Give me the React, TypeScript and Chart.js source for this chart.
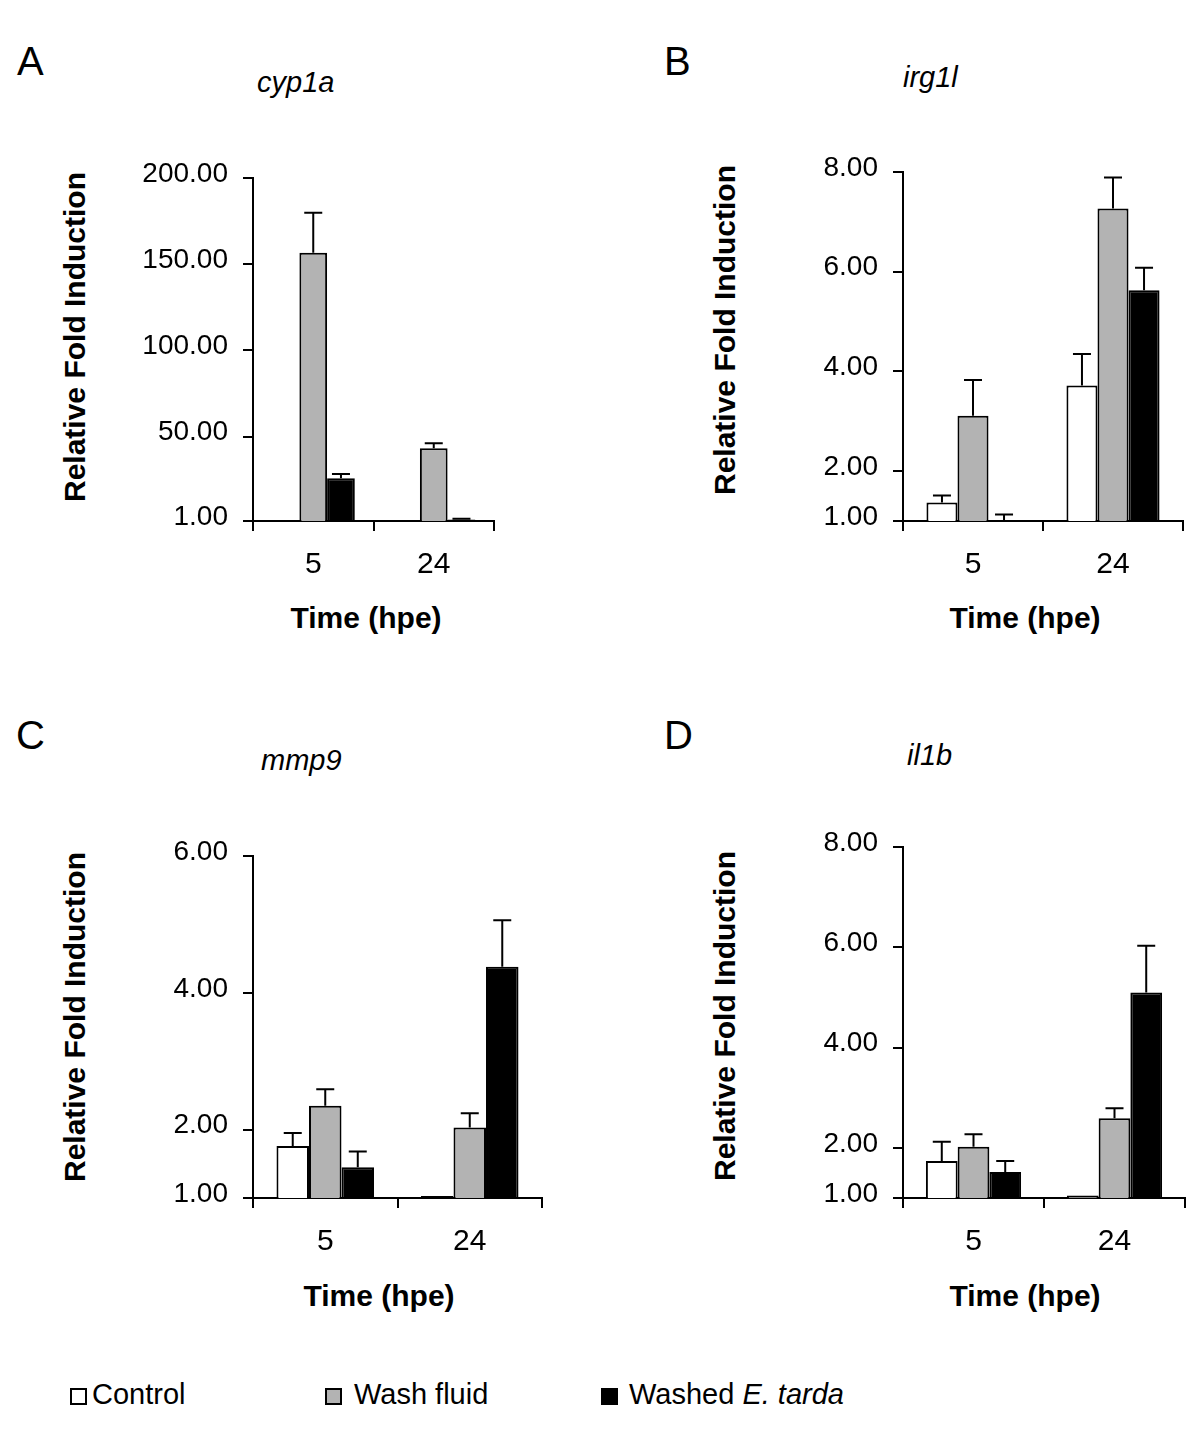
import React, { useEffect, useRef } from 'react';
import { Chart, registerables } from 'chart.js';

Chart.register(...registerables);

const FONT = '"Liberation Sans", Arial, Helvetica, sans-serif';

// ---------- data ----------
const categories = ['5', '24'];
const seriesNames = ['Control', 'Wash fluid', 'Washed E. tarda'];
const seriesColors = ['#ffffff', '#b3b3b3', '#000000'];

// A: cyp1a
const cyp1aControl = [1, 1];
const cyp1aControlErr = [0, 0];
const cyp1aWash = [156.6, 43.2];
const cyp1aWashErr = [23.2, 2.9];
const cyp1aWashed = [25.8, 1.8];
const cyp1aWashedErr = [2.5, 0.5];
const cyp1aTicks = [1, 50, 100, 150, 200];

// B: irg1l
const irg1lControl = [1.37, 3.72];
const irg1lControlErr = [0.14, 0.63];
const irg1lWash = [3.11, 7.27];
const irg1lWashErr = [0.72, 0.62];
const irg1lWashed = [1.0, 5.63];
const irg1lWashedErr = [0.13, 0.45];
const irg1lTicks = [1, 2, 4, 6, 8];

// C: mmp9
const mmp9Control = [1.76, 1.03];
const mmp9ControlErr = [0.19, 0];
const mmp9Wash = [2.35, 2.03];
const mmp9WashErr = [0.24, 0.21];
const mmp9Washed = [1.45, 4.38];
const mmp9WashedErr = [0.23, 0.68];
const mmp9Ticks = [1, 2, 4, 6];

// D: il1b
const il1bControl = [1.74, 1.05];
const il1bControlErr = [0.38, 0];
const il1bWash = [2.02, 2.59];
const il1bWashErr = [0.25, 0.2];
const il1bWashed = [1.52, 5.1];
const il1bWashedErr = [0.22, 0.93];
const il1bTicks = [1, 2, 4, 6, 8];

// ---------- layout ----------
const Y_W = 153;
const PAD_T = 40;
const PAD_R = 20;
const X_H = 72;

type PanelDef = {
  series: number[][];
  errors: number[][];
  ticks: number[];
  area: { L: number; T: number; R: number; B: number };
  catPct: number;
};

const panels: PanelDef[] = [
  {
    series: [cyp1aControl, cyp1aWash, cyp1aWashed],
    errors: [cyp1aControlErr, cyp1aWashErr, cyp1aWashedErr],
    ticks: cyp1aTicks,
    area: { L: 253, T: 178, R: 494, B: 521 },
    catPct: 0.69,
  },
  {
    series: [irg1lControl, irg1lWash, irg1lWashed],
    errors: [irg1lControlErr, irg1lWashErr, irg1lWashedErr],
    ticks: irg1lTicks,
    area: { L: 903, T: 172, R: 1183, B: 521 },
    catPct: 0.665,
  },
  {
    series: [mmp9Control, mmp9Wash, mmp9Washed],
    errors: [mmp9ControlErr, mmp9WashErr, mmp9WashedErr],
    ticks: mmp9Ticks,
    area: { L: 253, T: 856, R: 542, B: 1198 },
    catPct: 0.675,
  },
  {
    series: [il1bControl, il1bWash, il1bWashed],
    errors: [il1bControlErr, il1bWashErr, il1bWashedErr],
    ticks: il1bTicks,
    area: { L: 903, T: 847, R: 1185, B: 1198 },
    catPct: 0.675,
  },
];

const errorBarPlugin = {
  id: 'errorBars',
  afterDatasetsDraw(chart: any) {
    const ctx = chart.ctx;
    const yScale = chart.scales.y;
    ctx.save();
    ctx.strokeStyle = '#000';
    ctx.lineWidth = 2;
    chart.data.datasets.forEach((ds: any, i: number) => {
      const meta = chart.getDatasetMeta(i);
      meta.data.forEach((bar: any, j: number) => {
        const e = ds.errors ? ds.errors[j] : 0;
        if (!e) return;
        const v = ds.data[j];
        const top = yScale.getPixelForValue(v + e);
        const x = bar.x;
        ctx.beginPath();
        ctx.moveTo(x, bar.y);
        ctx.lineTo(x, top);
        ctx.moveTo(x - 9, top);
        ctx.lineTo(x + 9, top);
        ctx.stroke();
      });
    });
    ctx.restore();
  },
};

function Panel({ p }: { p: PanelDef }) {
  const ref = useRef<HTMLCanvasElement>(null);
  const left = p.area.L - Y_W;
  const top = p.area.T - PAD_T;
  const width = p.area.R - p.area.L + Y_W + PAD_R;
  const height = p.area.B - p.area.T + PAD_T + X_H;

  useEffect(() => {
    if (!ref.current) return;
    const chart = new Chart(ref.current, {
      type: 'bar',
      data: {
        labels: categories,
        datasets: p.series.map((s, i) => ({
          label: seriesNames[i],
          data: s,
          errors: p.errors[i],
          backgroundColor: seriesColors[i],
          borderColor: '#000',
          borderWidth: 2,
          barPercentage: 1,
          categoryPercentage: p.catPct,
        })) as any,
      },
      options: {
        animation: false,
        responsive: false,
        maintainAspectRatio: false,
        layout: { padding: { left: 0, top: PAD_T, right: PAD_R, bottom: 0 } },
        plugins: { legend: { display: false }, tooltip: { enabled: false }, title: { display: false } },
        scales: {
          x: {
            type: 'category',
            grid: { offset: true, drawOnChartArea: false, drawTicks: true, tickLength: 10, color: '#000', lineWidth: 2 },
            border: { display: true, color: '#000', width: 2 },
            ticks: { color: '#000', font: { family: FONT, size: 30 }, padding: 16, maxRotation: 0, autoSkip: false },
            afterFit: (s: any) => { s.height = X_H; },
          },
          y: {
            type: 'linear',
            min: p.ticks[0],
            max: p.ticks[p.ticks.length - 1],
            afterBuildTicks: (s: any) => { s.ticks = p.ticks.map((v) => ({ value: v })); },
            grid: { drawOnChartArea: false, drawTicks: true, tickLength: 10, color: '#000', lineWidth: 2 },
            border: { display: true, color: '#000', width: 2 },
            ticks: {
              color: '#000',
              font: { family: FONT, size: 28 },
              padding: 15,
              labelOffset: -4,
              callback: (v: any) => Number(v).toFixed(2),
            },
            afterFit: (s: any) => { s.width = Y_W; },
          },
        },
      } as any,
      plugins: [errorBarPlugin],
    });
    return () => chart.destroy();
  }, []);

  return (
    <canvas
      ref={ref}
      width={width}
      height={height}
      style={{ position: 'absolute', left, top, width, height }}
    />
  );
}

const base: React.CSSProperties = {
  position: 'absolute',
  fontFamily: FONT,
  color: '#000',
  whiteSpace: 'nowrap',
  margin: 0,
};

function Txt({ x, baseline, size, children, style }: any) {
  return (
    <div style={{ ...base, left: x, top: baseline - 0.8465 * size, fontSize: size, lineHeight: `${size}px`, ...style }}>
      {children}
    </div>
  );
}

function CenterTxt({ cx, baseline, size, children, style }: any) {
  return (
    <div style={{ ...base, left: cx, top: baseline - 0.8465 * size, fontSize: size, lineHeight: `${size}px`, transform: 'translateX(-50%)', ...style }}>
      {children}
    </div>
  );
}

function YTitle({ cx, cy }: { cx: number; cy: number }) {
  return (
    <div
      style={{
        ...base,
        left: cx,
        top: cy,
        fontSize: 30,
        lineHeight: '30px',
        fontWeight: 'bold',
        transform: 'translate(-50%, -50%) rotate(-90deg)',
      }}
    >
      Relative Fold Induction
    </div>
  );
}

function Swatch({ x, color }: { x: number; color: string }) {
  return (
    <div
      style={{
        position: 'absolute',
        left: x,
        top: 1388,
        width: 17,
        height: 17,
        boxSizing: 'border-box',
        border: '2px solid #000',
        background: color,
      }}
    />
  );
}

export default function App() {
  return (
    <div style={{ position: 'absolute', left: 0, top: 0, width: 1200, height: 1447, background: '#fff', overflow: 'hidden' }}>
      {panels.map((p, i) => (
        <Panel key={i} p={p} />
      ))}

      {/* panel letters */}
      <Txt x={17} baseline={75} size={40}>A</Txt>
      <Txt x={664} baseline={75} size={40}>B</Txt>
      <Txt x={16} baseline={749} size={40}>C</Txt>
      <Txt x={664} baseline={749} size={40}>D</Txt>

      {/* gene titles */}
      <Txt x={257} baseline={93} size={29} style={{ fontStyle: 'italic' }}>cyp1a</Txt>
      <Txt x={903} baseline={88} size={29} style={{ fontStyle: 'italic' }}>irg1l</Txt>
      <Txt x={261} baseline={771} size={29} style={{ fontStyle: 'italic' }}>mmp9</Txt>
      <Txt x={907} baseline={766} size={29} style={{ fontStyle: 'italic' }}>il1b</Txt>

      {/* y titles */}
      <YTitle cx={75} cy={337} />
      <YTitle cx={725} cy={330} />
      <YTitle cx={75} cy={1017} />
      <YTitle cx={725} cy={1016} />

      {/* x titles */}
      <CenterTxt cx={366} baseline={628} size={30} style={{ fontWeight: 'bold' }}>Time (hpe)</CenterTxt>
      <CenterTxt cx={1025} baseline={628} size={30} style={{ fontWeight: 'bold' }}>Time (hpe)</CenterTxt>
      <CenterTxt cx={379} baseline={1306} size={30} style={{ fontWeight: 'bold' }}>Time (hpe)</CenterTxt>
      <CenterTxt cx={1025} baseline={1306} size={30} style={{ fontWeight: 'bold' }}>Time (hpe)</CenterTxt>

      {/* legend */}
      <Swatch x={70} color={seriesColors[0]} />
      <Txt x={92} baseline={1405} size={29}>Control</Txt>
      <Swatch x={325} color={seriesColors[1]} />
      <Txt x={354} baseline={1405} size={29}>Wash fluid</Txt>
      <Swatch x={601} color={seriesColors[2]} />
      <Txt x={629} baseline={1405} size={29}>
        Washed <i>E. tarda</i>
      </Txt>
    </div>
  );
}
